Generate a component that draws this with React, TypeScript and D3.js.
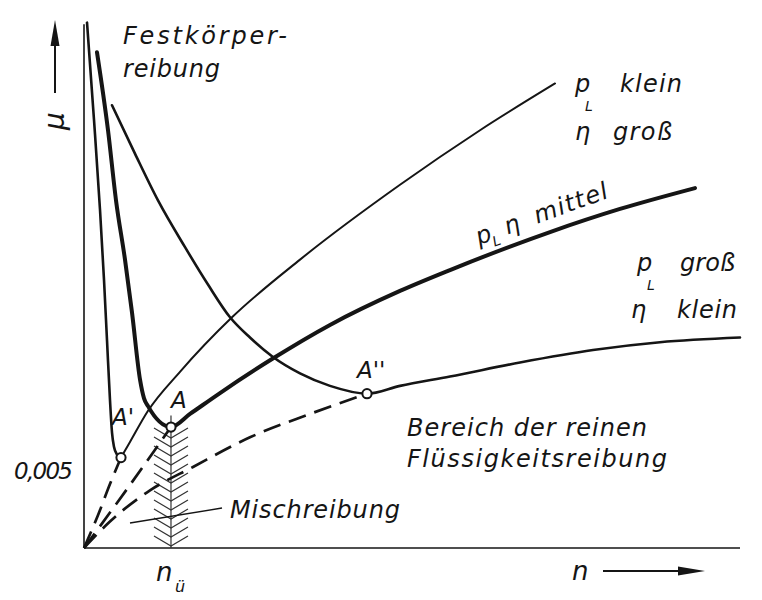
import React, { useEffect, useRef } from 'react';
import * as d3 from 'd3';

// Stribeck-Kurven: Reibungszahl mu über Drehzahl n
// Punkte [n, mu], n in willkürlichen Einheiten 0..100

// p_L klein, eta groß (Minimum A') - Festkörper-Ast und Flüssigkeits-Ast
const lowLoadFalling: [number, number][] = [
  [0.46, 0.0337], [1.52, 0.0275], [2.44, 0.0217], [3.05, 0.0172], [3.51, 0.0133],
  [3.96, 0.0095], [4.27, 0.0074], [4.57, 0.0065], [5.03, 0.006], [5.64, 0.0058],
];
const lowLoadRising: [number, number][] = [
  [5.64, 0.0058], [7.01, 0.0068], [9.76, 0.0088], [14.63, 0.0113], [22.56, 0.0148],
  [32.93, 0.0185], [48.17, 0.0233], [60.37, 0.0268], [71.8, 0.0298],
];

// p_L eta mittel (Minimum A)
const curveMid: [number, number][] = [
  [1.98, 0.0318], [3.66, 0.0268], [4.88, 0.0223], [6.25, 0.0185], [7.32, 0.0151],
  [8.54, 0.0108], [9.15, 0.0096], [9.76, 0.0091], [13.26, 0.00776],
  [16.16, 0.0086], [20.73, 0.00994], [28.66, 0.01212], [37.5, 0.01431],
  [48.17, 0.01649], [55.79, 0.01783], [71.04, 0.02027], [81.71, 0.02175], [93.14, 0.02309],
];

// p_L groß, eta klein (Minimum A'')
const curveHighLoad: [number, number][] = [
  [4.27, 0.0284], [7.77, 0.0253], [11.28, 0.0223], [15.4, 0.0193], [18.9, 0.0169],
  [22.26, 0.0148], [25.3, 0.0135], [28.66, 0.0123], [32.93, 0.0112], [37.5, 0.0104],
  [43.14, 0.0099], [48.17, 0.0104], [55.79, 0.011], [66.46, 0.0119], [77.59, 0.0127],
  [87.8, 0.0132], [100, 0.0135],
];

// gestrichelte Verlängerungen zum Ursprung
const dashLowLoad: [number, number][] = [[0, 0], [2.13, 0.0021], [3.96, 0.0041], [5.64, 0.0058]];
const dashMid: [number, number][] = [[0, 0], [6.25, 0.0036], [13.26, 0.00776]];
const dashHighLoad: [number, number][] = [
  [0, 0], [3.96, 0.0017], [10.06, 0.0037], [16.62, 0.0052], [25.3, 0.0071], [34.45, 0.0086], [43.14, 0.0099],
];

const pointLabels = ["A'", 'A', "A''"];
const pointN = [5.64, 13.26, 43.14];
const pointMu = [0.0058, 0.00776, 0.0099];

const yTicks = [0.005];
const nTransition = 13.26;

const FONT = '"DejaVu Sans", sans-serif';
const INK = '#151515';

const App: React.FC = () => {
  const svgRef = useRef<SVGSVGElement>(null);

  useEffect(() => {
    if (!svgRef.current) return;
    const svg = d3.select(svgRef.current);
    svg.selectAll('*').remove();

    const x = d3.scaleLinear().domain([0, 100]).range([84, 740]);
    const y = d3.scaleLinear().domain([0, 0.034]).range([548, 18]);

    const line = d3.line<[number, number]>()
      .x(d => x(d[0]))
      .y(d => y(d[1]))
      .curve(d3.curveMonotoneX);

    const text = (tx: number, ty: number, str: string, size = 24, len?: number) => {
      const t = svg.append('text')
        .attr('x', tx)
        .attr('y', ty)
        .attr('font-family', FONT)
        .attr('font-style', 'italic')
        .attr('font-size', size)
        .attr('fill', INK)
        .text(str);
      if (len) t.attr('textLength', len).attr('lengthAdjust', 'spacing');
      return t;
    };

    // axes
    svg.append('line')
      .attr('x1', x(0)).attr('y1', y(0))
      .attr('x2', x(0)).attr('y2', y(0.0336))
      .attr('stroke', INK).attr('stroke-width', 1.6);
    svg.append('line')
      .attr('x1', x(0)).attr('y1', y(0))
      .attr('x2', x(100)).attr('y2', y(0))
      .attr('stroke', INK).attr('stroke-width', 1.6);

    yTicks.forEach(t => {
      text(73, y(t) + 9, '0,005', 23, 59).attr('text-anchor', 'end');
    });

    // mu arrow + label
    svg.append('line')
      .attr('x1', 55).attr('y1', 93).attr('x2', 55).attr('y2', 42)
      .attr('stroke', INK).attr('stroke-width', 2);
    svg.append('polygon')
      .attr('points', '55,20 50.5,46 59.5,46')
      .attr('fill', INK);
    svg.append('text')
      .attr('transform', 'translate(64,121) rotate(-90)')
      .attr('text-anchor', 'middle')
      .attr('font-family', FONT)
      .attr('font-style', 'italic')
      .attr('font-size', 28)
      .attr('fill', INK)
      .text('μ');

    // n arrow + label
    text(572, 580, 'n', 26);
    svg.append('line')
      .attr('x1', 603).attr('y1', 571).attr('x2', 685).attr('y2', 571)
      .attr('stroke', INK).attr('stroke-width', 2);
    svg.append('polygon')
      .attr('points', '705,571 678,566.5 678,575.5')
      .attr('fill', INK);

    // transition speed n_ü with hatched zone (Mischreibung)
    const xt = x(nTransition);
    const hatch = svg.append('g').attr('stroke', '#333').attr('stroke-width', 1.2).attr('fill', 'none');
    hatch.append('line')
      .attr('x1', xt).attr('y1', y(0.0085))
      .attr('x2', xt).attr('y2', y(0));
    for (let cy = y(0) - 2; cy > y(0.0072); cy -= 9) {
      hatch.append('path')
        .attr('d', `M${xt - 17},${cy - 10} L${xt},${cy} L${xt + 17},${cy - 10}`);
    }
    text(156, 581, 'n', 26);
    text(175, 592, 'ü', 16);

    // dashed extensions
    [dashLowLoad, dashMid, dashHighLoad].forEach(d => {
      svg.append('path')
        .datum(d)
        .attr('fill', 'none')
        .attr('stroke', INK)
        .attr('stroke-width', 2.7)
        .attr('stroke-dasharray', '18,9')
        .attr('d', line);
    });

    // Stribeck curves
    const curves: { data: [number, number][]; width: number }[] = [
      { data: lowLoadFalling, width: 2.6 },
      { data: lowLoadRising, width: 2 },
      { data: curveHighLoad, width: 2.6 },
      { data: curveMid, width: 4 },
    ];
    curves.forEach(c => {
      svg.append('path')
        .datum(c.data)
        .attr('fill', 'none')
        .attr('stroke', INK)
        .attr('stroke-width', c.width)
        .attr('stroke-linecap', 'round')
        .attr('stroke-linejoin', 'round')
        .attr('d', line);
    });

    // transition points
    pointLabels.forEach((lbl, i) => {
      svg.append('circle')
        .attr('cx', x(pointN[i]))
        .attr('cy', y(pointMu[i]))
        .attr('r', 4.6)
        .attr('fill', '#fff')
        .attr('stroke', INK)
        .attr('stroke-width', 2);
    });
    text(112, 425, pointLabels[0], 23);
    text(171, 408, pointLabels[1], 23);
    text(357, 378, pointLabels[2], 23);

    // annotations
    text(123, 44, 'Festkörper-', 24, 164);
    text(123, 77, 'reibung', 24, 97);

    text(575, 92, 'p', 24);
    text(585, 111, 'L', 14);
    text(620, 92, 'klein', 24, 62);
    text(575, 140, 'η', 24);
    text(613, 140, 'groß', 24, 59);

    const mid = svg.append('g').attr('transform', 'translate(479,245) rotate(-20)');
    const midText = (tx: number, ty: number, str: string, size: number) =>
      mid.append('text')
        .attr('x', tx).attr('y', ty)
        .attr('font-family', FONT)
        .attr('font-style', 'italic')
        .attr('font-size', size)
        .attr('fill', INK)
        .text(str);
    midText(0, 0, 'p', 24);
    midText(14, 7, 'L', 14);
    midText(30, 0, 'η', 24);
    midText(62, 0, 'mittel', 24).attr('textLength', 77).attr('lengthAdjust', 'spacing');

    text(637, 271, 'p', 24);
    text(647, 290, 'L', 14);
    text(680, 271, 'groß', 24, 55);
    text(631, 318, 'η', 24);
    text(677, 318, 'klein', 24, 60);

    text(407, 436, 'Bereich der reinen', 24, 240);
    text(407, 467, 'Flüssigkeitsreibung', 24, 260);

    svg.append('line')
      .attr('x1', 222).attr('y1', 508).attr('x2', 130).attr('y2', 523)
      .attr('stroke', INK).attr('stroke-width', 1.3);
    text(230, 518, 'Mischreibung', 24, 170);
  }, []);

  return (
    <svg
      ref={svgRef}
      width={762}
      height={600}
      style={{ position: 'absolute', left: 0, top: 0, background: '#fff' }}
    />
  );
};

export default App;
